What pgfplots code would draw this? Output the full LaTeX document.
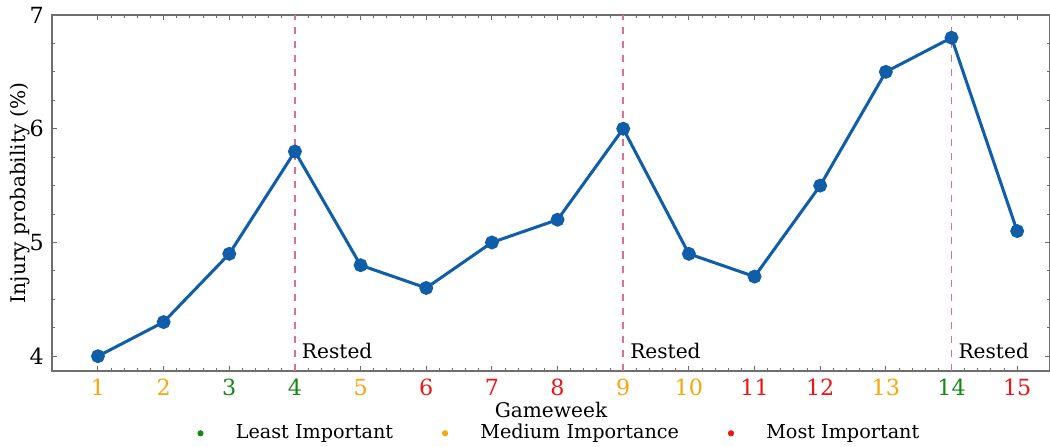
\documentclass[border=0pt]{standalone}
\usepackage{fontspec}
\setmainfont{DejaVu Serif}
\usepackage{pgfplots}
\pgfplotsset{compat=1.18}
\definecolor{linecol}{RGB}{16,94,168}
\definecolor{restcol}{RGB}{219,112,147}
\definecolor{lowc}{RGB}{20,135,20}
\definecolor{medc}{RGB}{250,165,10}
\definecolor{highc}{RGB}{240,20,20}
\definecolor{spine}{RGB}{110,110,110}
\begin{document}
\begin{tikzpicture}
\begin{axis}[
    name=ax,
    width=14.97cm, height=5.34cm, scale only axis,
    xmin=0.3, xmax=15.5, ymin=3.87, ymax=7,
    xtick={1,...,15},
    xticklabels={\textcolor{medc}{1},\textcolor{medc}{2},\textcolor{lowc}{3},\textcolor{lowc}{4},\textcolor{medc}{5},
        \textcolor{highc}{6},\textcolor{highc}{7},\textcolor{highc}{8},\textcolor{medc}{9},\textcolor{medc}{10},
        \textcolor{highc}{11},\textcolor{highc}{12},\textcolor{medc}{13},\textcolor{lowc}{14},\textcolor{highc}{15}},
    ytick={4,5,6,7},
    minor x tick num=4, minor y tick num=3,
    tick align=inside, xtick pos=both, ytick pos=both,
    major tick length=2.2pt, minor tick length=1.3pt,
    axis line style={spine, line width=0.5pt},
    tick style={spine, line width=0.4pt},
    /pgf/number format/assume math mode=true,
    tick label style={font=\fontsize{9.5}{11}\selectfont},
    label style={font=\fontsize{8.6}{10}\selectfont},
    xlabel={Gameweek},
    ylabel={Injury probability (\%)},
    xlabel style={at={(axis description cs:0.5,-0.11)}, anchor=center},
    ylabel style={at={(axis description cs:-0.032,0.5)}, anchor=center},
    legend style={at={(axis description cs:0.51,-0.175)}, anchor=center, draw=none, fill=none,
        font=\fontsize{8.2}{10}\selectfont, legend columns=3,
        /tikz/every odd column/.append style={column sep=0.42cm},
        /tikz/every even column/.append style={column sep=0.67cm}},
    clip=false,
]
\addlegendimage{only marks, mark=*, mark size=1.1pt, lowc}
\addlegendentry{Least Important}
\addlegendimage{only marks, mark=*, mark size=1.1pt, medc}
\addlegendentry{Medium Importance}
\addlegendimage{only marks, mark=*, mark size=1.1pt, highc}
\addlegendentry{Most Important}
% rested gameweeks
\addplot[forget plot, restcol, dashed, line width=0.8pt] coordinates {(4,3.87) (4,7)};
\addplot[forget plot, restcol, dashed, line width=0.8pt] coordinates {(9,3.87) (9,7)};
\addplot[forget plot, restcol, dashed, line width=0.8pt] coordinates {(14,3.87) (14,7)};
% injury probability
\addplot[forget plot, linecol, line width=1.3pt, mark=*, mark size=2.3pt, mark options={solid, fill=linecol}]
coordinates {(1,4.0) (2,4.3) (3,4.9) (4,5.8) (5,4.8) (6,4.6) (7,5.0) (8,5.2)
    (9,6.0) (10,4.9) (11,4.7) (12,5.5) (13,6.5) (14,6.8) (15,5.1)};
\node[anchor=west, inner sep=0pt, font=\fontsize{8.6}{10}\selectfont] at (axis cs:4.1,4.05) {Rested};
\node[anchor=west, inner sep=0pt, font=\fontsize{8.6}{10}\selectfont] at (axis cs:9.1,4.05) {Rested};
\node[anchor=west, inner sep=0pt, font=\fontsize{8.6}{10}\selectfont] at (axis cs:14.1,4.05) {Rested};
\end{axis}
\pgfresetboundingbox
\path[use as bounding box] (-0.78,-1.14) rectangle (14.97,5.565);
\end{tikzpicture}
\end{document}
